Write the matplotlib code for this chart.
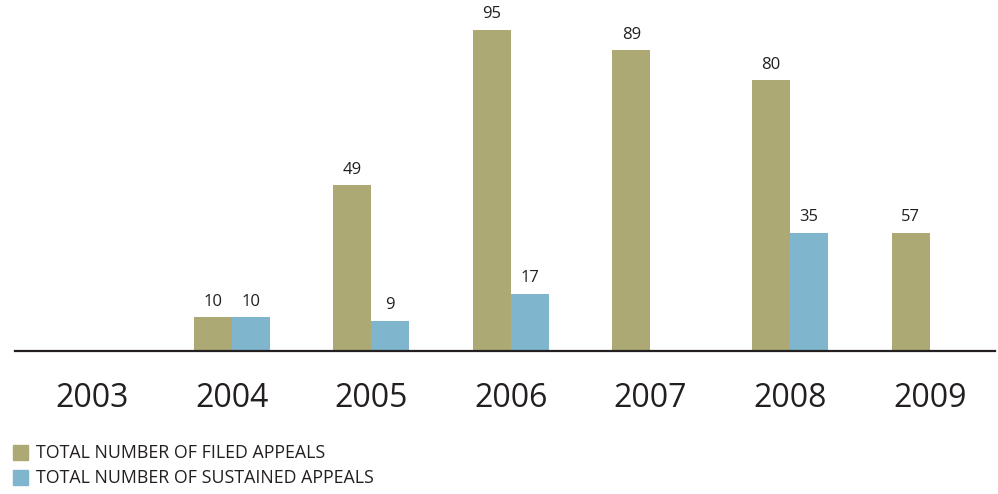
import numpy as np
import matplotlib.pyplot as plt
from matplotlib.patches import Rectangle

plt.rcParams['font.family'] = ['Open Sans', 'DejaVu Sans']

years = ['2003', '2004', '2005', '2006', '2007', '2008', '2009']
# numbers printed above the bars (None = no bar)
filed_labels = [None, 10, 49, 95, 89, 80, 57]
sustained_labels = [None, 10, 9, 17, None, 35, None]
# bar heights as drawn in the original (2009 bar is drawn at the 35 level)
filed_heights = [0, 10, 49, 95, 89, 80, 35]
sustained_heights = [0, 10, 9, 17, 0, 35, 0]

filed_color = '#ADA974'
sustained_color = '#7FB6CE'
text_color = '#231F20'

W, H = 998, 494
fig = plt.figure(figsize=(W / 100, H / 100), dpi=100)
ax = fig.add_axes([15 / W, 143 / H, 980 / W, 351 / H])

x = np.arange(len(years))
bw = 0.272
ax.bar(x - bw / 2, filed_heights, bw, color=filed_color)
ax.bar(x + bw / 2, sustained_heights, bw, color=sustained_color)

for i in range(len(years)):
    if filed_labels[i] is not None:
        ax.text(x[i] - bw / 2, filed_heights[i] + 2.2, str(filed_labels[i]),
                ha='center', va='bottom', fontsize=12, color=text_color)
    if sustained_labels[i] is not None:
        ax.text(x[i] + bw / 2, sustained_heights[i] + 2.2, str(sustained_labels[i]),
                ha='center', va='bottom', fontsize=12, color=text_color)

ax.set_xlim(-0.552, 6.468)
ax.set_ylim(0, 103.8)
for s in ['top', 'right', 'left']:
    ax.spines[s].set_visible(False)
ax.spines['bottom'].set_color(text_color)
ax.spines['bottom'].set_linewidth(1.6)
ax.set_yticks([])
ax.set_xticks(x)
ax.set_xticklabels(years, fontsize=23, color=text_color)
ax.tick_params(axis='x', length=0, pad=22)

# legend drawn by hand
legend_items = [('TOTAL NUMBER OF FILED APPEALS', filed_color),
                ('TOTAL NUMBER OF SUSTAINED APPEALS', sustained_color)]
for k, (lab, col) in enumerate(legend_items):
    top = 445 + k * 25
    fig.patches.append(Rectangle((13 / W, 1 - (top + 15) / H), 15 / W, 15 / H,
                                 transform=fig.transFigure, color=col))
    fig.text(36 / W, 1 - (top + 7.5) / H, lab, fontsize=12.8, color=text_color,
             va='center', ha='left')

fig.savefig('out.png', dpi=100)
